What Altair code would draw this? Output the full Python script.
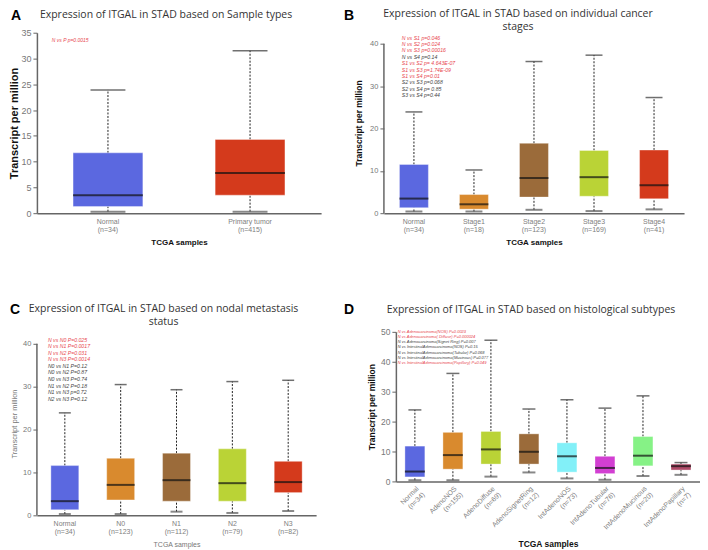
import altair as alt
import pandas as pd

# ---------------- data ----------------
# Panel A: sample types
a_cats = ["Normal|(n=34)", "Primary tumor|(n=415)"]
a_min = [0.3, 0.3]
a_q1 = [1.3, 3.5]
a_med = [3.5, 7.8]
a_q3 = [11.7, 14.3]
a_max = [23.9, 31.5]
a_cols = ["#5b68e0", "#d43a1c"]
a_notes = ["N vs P p=0.0015"]
a_note_cols = ["#e8474f"]

# Panel B: cancer stages
b_cats = ["Normal|(n=34)", "Stage1|(n=18)", "Stage2|(n=123)", "Stage3|(n=169)", "Stage4|(n=41)"]
b_min = [0.4, 0.4, 0.8, 0.5, 0.9]
b_q1 = [1.3, 0.95, 3.8, 4.0, 3.4]
b_med = [3.45, 2.1, 8.3, 8.5, 6.6]
b_q3 = [11.5, 4.4, 16.5, 14.8, 14.9]
b_max = [23.9, 10.2, 35.8, 37.3, 27.3]
b_cols = ["#5b68e0", "#d98a2e", "#9b6b3a", "#bad336", "#d43a1c"]
b_notes = ["N vs S1 p=0.046", "N vs S2 p=0.024", "N vs S3 p=0.00016", "N vs S4 p=0.14",
           "S1 vs S2 p= 4.643E-07", "S1 vs S3 p=1.74E-09", "S1 vs S4 p=0.01",
           "S2 vs S3 p=0.068", "S2 vs S4 p= 0.85", "S3 vs S4 p=0.44"]
b_note_cols = ["#e8474f", "#e8474f", "#e8474f", "#444444", "#e8474f", "#e8474f", "#e8474f",
               "#444444", "#444444", "#444444"]

# Panel C: nodal metastasis
c_cats = ["Normal|(n=34)", "N0|(n=123)", "N1|(n=112)", "N2|(n=79)", "N3|(n=82)"]
c_min = [0.3, 0.3, 0.85, 0.55, 1.0]
c_q1 = [1.3, 3.6, 3.3, 3.3, 5.3]
c_med = [3.3, 7.1, 8.2, 7.5, 7.75]
c_q3 = [11.6, 13.3, 14.5, 15.5, 12.6]
c_max = [23.9, 30.5, 29.3, 31.2, 31.5]
c_cols = ["#5b68e0", "#d98a2e", "#9b6b3a", "#bad336", "#d43a1c"]
c_notes = ["N vs N0   P=0.025", "N vs N1   P=0.0017", "N vs N2   P=0.031", "N vs N3   P=0.0014",
           "N0 vs N1 P=0.12", "N0 vs N2 P=0.87", "N0 vs N3 P=0.74", "N1 vs N2 P=0.18",
           "N1 vs N3 p=0.72", "N2 vs N3 P=0.12"]
c_note_cols = ["#e8474f"] * 4 + ["#444444"] * 6

# Panel D: histological subtypes
d_cats = ["Normal|(n=34)", "AdenoNOS|(n=155)", "AdenoDiffuse|(n=69)", "AdenoSignetRing|(n=12)",
          "IntAdenoNOS|(n=73)", "IntAdenoTubular|(n=76)", "IntAdenoMucinous|(n=20)",
          "IntAdenoPapillary|(n=7)"]
d_min = [0.4, 0.4, 1.6, 3.0, 1.0, 0.55, 1.8, 2.2]
d_q1 = [1.5, 4.1, 5.8, 5.8, 3.1, 2.6, 5.2, 3.8]
d_med = [3.3, 8.8, 10.7, 9.9, 8.4, 4.5, 8.6, 5.1]
d_q3 = [11.8, 16.4, 16.7, 15.9, 12.9, 8.4, 15.0, 5.8]
d_max = [23.9, 36.1, 47.2, 24.2, 27.3, 24.5, 28.6, 6.3]
d_cols = ["#5b68e0", "#d98a2e", "#bad336", "#9b6b3a", "#82f0f8", "#d23fd2", "#86f286", "#b04a68"]
d_notes = ["N vs Adenocarcinoma(NOS)     P=0.0023",
           "N vs Adenocarcinoma( Diffuse)     P=0.000024",
           "N vs Adenocarcinoma(Signet Ring)     P=0.007",
           "N vs IntestinalAdenocarcinoma(NOS)     P=0.15",
           "N vs IntestinalAdenocarcinoma(Tubular)     P=0.068",
           "N vs IntestinalAdenocarcinoma(Mucinous)     P=0.077",
           "N vs IntestinalAdenocarcinoma(Papillary)     P=0.049"]
d_note_cols = ["#e8474f", "#e8474f", "#444444", "#444444", "#444444", "#444444", "#e8474f"]

YTITLE = "Transcript per million"
XTITLE = "TCGA samples"


def make_panel(cats, lo, q1, med, q3, hi, cols, notes, note_cols, *, w, h, ymax, ticks, axis_top,
               title_lines, title_dx, title_dy, letter, letter_dx, letter_dy, note_dx, note_dy,
               note_step, note_size, box_w, cap_w, label_angle, bold, ytick_size, xlab_size,
               ytitle_size, xtitle_size, ytitle_pad, xlabel_pad, xtitle_pad):
    df = pd.DataFrame(dict(cat=cats, lo=lo, q1=q1, med=med, q3=q3, hi=hi, col=cols))
    title_color = "#111111" if bold else "#777777"
    weight = "bold" if bold else "normal"
    custom_domain = axis_top < ymax
    common = dict(
        labelExpr="split(datum.label, '|')", labelAngle=label_angle, ticks=False,
        labelFont="Liberation Sans", labelFontSize=xlab_size, labelColor="#808080",
        labelPadding=xlabel_pad, labelLineHeight=xlab_size + 1.5,
        domainColor="#666666", domainWidth=1.5,
        titleFont="Liberation Sans", titleFontSize=xtitle_size, titleFontWeight=weight,
        titleColor=title_color, titlePadding=xtitle_pad,
    )
    if label_angle != 0:
        common.update(labelAlign="right", labelBaseline="top")
    xaxis = alt.Axis(**common)
    x = alt.X("cat:N", sort=cats, title=XTITLE, axis=xaxis,
              scale=alt.Scale(paddingInner=0, paddingOuter=0))
    yscale = alt.Scale(domain=[0, ymax], nice=False, zero=True)
    yaxis = alt.Axis(
        values=ticks, grid=False, domain=not custom_domain, domainColor="#666666", domainWidth=1.5,
        tickColor="#666666", tickSize=4, labelFont="Liberation Sans", labelFontSize=ytick_size,
        labelColor="#777777", labelPadding=2,
        titleFont="Liberation Sans", titleFontSize=ytitle_size, titleFontWeight=weight,
        titleColor=title_color, titlePadding=ytitle_pad,
    )

    def Y(f):
        return alt.Y(f, title=YTITLE, scale=yscale, axis=yaxis)

    base = alt.Chart(df).encode(x=x)
    whisk_hi = base.mark_rule(color="#222222", strokeDash=[2, 1.5], strokeWidth=1).encode(
        y=Y("q3:Q"), y2="hi:Q")
    whisk_lo = base.mark_rule(color="#222222", strokeDash=[2, 1.5], strokeWidth=1).encode(
        y=Y("lo:Q"), y2="q1:Q")
    boxes = base.mark_bar(size=box_w, stroke="white", strokeOpacity=0.35, strokeWidth=1).encode(
        y=Y("q1:Q"), y2="q3:Q", color=alt.Color("col:N", scale=None))
    meds = base.mark_tick(size=box_w, thickness=2, color="#111111").encode(y=Y("med:Q"))
    cap_hi = base.mark_tick(size=cap_w, thickness=1.5, color="#333333").encode(y=Y("hi:Q"))
    cap_lo = base.mark_tick(size=cap_w, thickness=2, color="#555555").encode(y=Y("lo:Q"))

    # annotation lines (p values), placed from the top of the plot downwards
    px_per_unit = h / ymax
    note_df = pd.DataFrame(dict(
        t=notes, c=note_cols,
        yv=[ymax - (note_dy + i * note_step) / px_per_unit for i in range(len(notes))]))
    note_layer = alt.Chart(note_df).mark_text(
        align="left", baseline="middle", fontSize=note_size, fontStyle="italic",
        font="Liberation Sans").encode(
        x=alt.value(note_dx), y=Y("yv:Q"), text="t:N", color=alt.Color("c:N", scale=None))

    letter_layer = alt.Chart(pd.DataFrame(dict(t=[letter]))).mark_text(
        align="left", baseline="middle", fontSize=14, fontWeight="bold",
        font="Liberation Sans", color="#000000").encode(
        x=alt.value(letter_dx), y=alt.value(letter_dy), text="t:N")

    title_layers = []
    for i, line in enumerate(title_lines):
        title_layers.append(alt.Chart(pd.DataFrame(dict(t=[line]))).mark_text(
            align="center", baseline="middle", fontSize=10.5, font="Open Sans",
            color="#333333").encode(
            x=alt.value(w / 2 + title_dx), y=alt.value(title_dy + 12.5 * i), text="t:N"))

    layers = [whisk_hi, whisk_lo, boxes, meds, cap_hi, cap_lo, note_layer, letter_layer] + title_layers
    if custom_domain:
        dom = alt.Chart(pd.DataFrame(dict(a=[0], b=[axis_top]))).mark_rule(
            color="#666666", strokeWidth=1.5).encode(x=alt.value(0), y=Y("a:Q"), y2="b:Q")
        layers.insert(0, dom)

    return alt.layer(*layers).properties(width=w, height=h)


pA = make_panel(a_cats, a_min, a_q1, a_med, a_q3, a_max, a_cols, a_notes, a_note_cols,
                w=285, h=181, ymax=35, ticks=[0, 5, 10, 15, 20, 25, 30, 35], axis_top=35,
                title_lines=["Expression of ITGAL in STAD based on Sample types"], title_dx=-13,
                title_dy=-17.5, letter="A", letter_dx=-26, letter_dy=-16.5, note_dx=15, note_dy=7,
                note_step=6.4, note_size=5, box_w=70, cap_w=35, label_angle=0, bold=True,
                ytick_size=9, xlab_size=7, ytitle_size=11, xtitle_size=8, ytitle_pad=1,
                xlabel_pad=4, xtitle_pad=6)

pB = make_panel(b_cats, b_min, b_q1, b_med, b_q3, b_max, b_cols, b_notes, b_note_cols,
                w=301, h=181, ymax=42.6, ticks=[0, 10, 20, 30, 40], axis_top=40,
                title_lines=["Expression of ITGAL in STAD based on individual cancer", "stages"],
                title_dx=-16, title_dy=-18.5, letter="B", letter_dx=-40, letter_dy=-16.5,
                note_dx=18, note_dy=5, note_step=6.4, note_size=5.2, box_w=29, cap_w=17,
                label_angle=0, bold=True, ytick_size=7.5, xlab_size=7, ytitle_size=8.5,
                xtitle_size=8, ytitle_pad=6, xlabel_pad=4, xtitle_pad=6)

pC = make_panel(c_cats, c_min, c_q1, c_med, c_q3, c_max, c_cols, c_notes, c_note_cols,
                w=280, h=184, ymax=42.8, ticks=[0, 10, 20, 30, 40], axis_top=40,
                title_lines=["Expression of ITGAL in STAD based on nodal metastasis", "status"],
                title_dx=-13, title_dy=-22.5, letter="C", letter_dx=-27, letter_dy=-21.5,
                note_dx=11, note_dy=8, note_step=6.55, note_size=5.2, box_w=28, cap_w=12,
                label_angle=0, bold=False, ytick_size=7.5, xlab_size=7, ytitle_size=7.5,
                xtitle_size=7, ytitle_pad=4, xlabel_pad=4, xtitle_pad=6)

pD = make_panel(d_cats, d_min, d_q1, d_med, d_q3, d_max, d_cols, d_notes, d_note_cols,
                w=305, h=150, ymax=50, ticks=[0, 10, 20, 30, 40, 50], axis_top=50,
                title_lines=["Expression of ITGAL in STAD based on histological subtypes"],
                title_dx=-17, title_dy=-21.5, letter="D", letter_dx=-52, letter_dy=-21.5,
                note_dx=2, note_dy=0, note_step=5.2, note_size=4, box_w=20, cap_w=13,
                label_angle=-45, bold=True, ytick_size=8.5, xlab_size=7, ytitle_size=8.5,
                xtitle_size=8.5, ytitle_pad=4, xlabel_pad=3, xtitle_pad=3)

row1 = alt.hconcat(pA, pB, spacing=23)
row2 = alt.hconcat(pC, pD, spacing=28)
chart = alt.vconcat(row1, row2, spacing=56, padding=0).configure_view(stroke=None)

chart.save("out.html", embed_options={"renderer": "svg", "actions": False})
